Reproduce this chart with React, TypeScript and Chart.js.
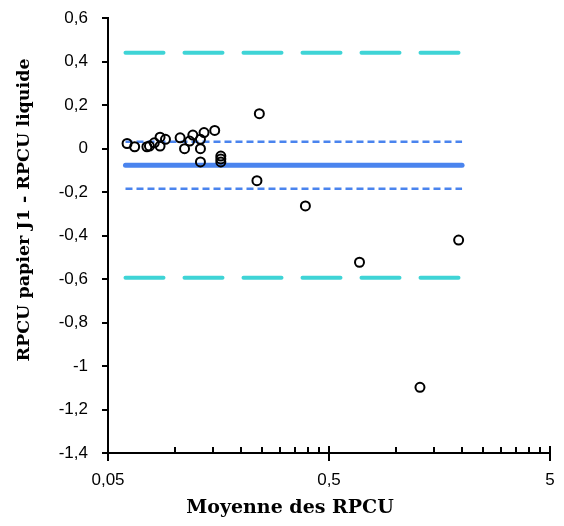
import React, { useEffect, useRef } from "react";
import { Chart, registerables } from "chart.js";

Chart.register(...registerables);

// Bland-Altman data: mean of RPCU (x, log scale) vs difference (y)
const meanRPCU = [
  0.061, 0.066, 0.075, 0.077, 0.081, 0.086, 0.086, 0.091, 0.106, 0.111,
  0.117, 0.121, 0.131, 0.131, 0.131, 0.136, 0.152, 0.162, 0.162, 0.162,
  0.242, 0.236, 0.391, 0.687, 1.93, 1.29,
];
const diffRPCU = [
  0.023, 0.008, 0.008, 0.011, 0.026, 0.011, 0.052, 0.042, 0.049, -0.001,
  0.034, 0.062, 0.042, -0.001, -0.062, 0.073, 0.083, -0.035, -0.048, -0.062,
  0.16, -0.148, -0.264, -0.523, -0.421, -1.098,
];

const lineRangeX = [0.06, 2];
const meanDiff = -0.077;
const ciUpper = 0.031;
const ciLower = -0.185;
const loaUpper = 0.44;
const loaLower = -0.594;

const xMajorTicks = [0.05, 0.5, 5];
const xMinorTicks = [
  0.1, 0.15, 0.2, 0.25, 0.3, 0.35, 0.4, 0.45,
  1, 1.5, 2, 2.5, 3, 3.5, 4, 4.5,
];
const xLabels: Record<string, string> = { "0.05": "0,05", "0.5": "0,5", "5": "5" };

const xTitle = "Moyenne des RPCU";
const yTitle = "RPCU papier J1 - RPCU liquide";

const hLine = (y: number) => lineRangeX.map((x) => ({ x, y }));

const CANVAS_W = 564;
const CANVAS_H = 526;

const zeroPad = (scale: any) => {
  scale.paddingTop = 0;
  scale.paddingBottom = 0;
  scale.paddingLeft = 0;
  scale.paddingRight = 0;
};

export default function App() {
  const ref = useRef<HTMLCanvasElement | null>(null);

  useEffect(() => {
    if (!ref.current) return;

    const overlay = {
      id: "overlay",
      afterDraw(chart: any) {
        const ctx = chart.ctx as CanvasRenderingContext2D;
        const xs = chart.scales.x;
        const ys = chart.scales.y;
        const axisY = ys.bottom;
        ctx.save();
        ctx.strokeStyle = "#000";
        ctx.lineWidth = 2;
        ctx.beginPath();
        for (const v of xMajorTicks) {
          const px = Math.round(xs.getPixelForValue(v));
          ctx.moveTo(px, axisY - 7);
          ctx.lineTo(px, axisY + 8);
        }
        for (const v of xMinorTicks) {
          const px = Math.round(xs.getPixelForValue(v));
          ctx.moveTo(px, axisY - 6);
          ctx.lineTo(px, axisY);
        }
        ctx.stroke();

        ctx.fillStyle = "#000";
        ctx.textAlign = "center";
        ctx.textBaseline = "middle";
        ctx.font = "bold 19px 'DejaVu Serif', serif";
        ctx.fillText(xTitle, 290, 508);
        ctx.font = "bold 17.5px 'DejaVu Serif', serif";
        ctx.translate(24, 210);
        ctx.rotate(-Math.PI / 2);
        ctx.fillText(yTitle, 0, 0);
        ctx.restore();
      },
    };

    const chart = new Chart(ref.current, {
      type: "scatter",
      data: {
        datasets: [
          {
            label: "points",
            data: meanRPCU.map((x, i) => ({ x, y: diffRPCU[i] })),
            pointRadius: 4.5,
            pointBorderWidth: 2,
            pointBorderColor: "#000",
            pointBackgroundColor: "rgba(0,0,0,0)",
            showLine: false,
            order: 0,
          },
          {
            label: "loaUpper",
            data: hLine(loaUpper),
            showLine: true,
            borderColor: "#3fd4d6",
            borderWidth: 4,
            borderDash: [38, 21],
            borderCapStyle: "round",
            pointRadius: 0,
            order: 1,
          },
          {
            label: "loaLower",
            data: hLine(loaLower),
            showLine: true,
            borderColor: "#3fd4d6",
            borderWidth: 4,
            borderDash: [38, 21],
            borderCapStyle: "round",
            pointRadius: 0,
            order: 1,
          },
          {
            label: "ciUpper",
            data: hLine(ciUpper),
            showLine: true,
            borderColor: "#4a84ee",
            borderWidth: 2.5,
            borderDash: [7, 4],
            pointRadius: 0,
            order: 1,
          },
          {
            label: "ciLower",
            data: hLine(ciLower),
            showLine: true,
            borderColor: "#4a84ee",
            borderWidth: 2.5,
            borderDash: [7, 4],
            pointRadius: 0,
            order: 1,
          },
          {
            label: "mean",
            data: hLine(meanDiff),
            showLine: true,
            borderColor: "#4a84ee",
            borderWidth: 5,
            borderCapStyle: "round",
            pointRadius: 0,
            order: 1,
          },
        ],
      },
      options: {
        animation: false,
        responsive: false,
        devicePixelRatio: 1,
        layout: { padding: { left: 0, right: 14, top: 18, bottom: 0 } },
        plugins: {
          legend: { display: false },
          tooltip: { enabled: false },
        },
        scales: {
          x: {
            type: "logarithmic",
            min: 0.05,
            max: 5,
            afterBuildTicks: (scale: any) => {
              scale.ticks = [...xMajorTicks].map((v) => ({ value: v }));
            },
            afterFit: (scale: any) => {
              scale.height = CANVAS_H - 453;
              zeroPad(scale);
            },
            grid: { display: false, drawTicks: true, tickLength: 17 },
            border: { display: true, color: "#000", width: 2 },
            ticks: {
              autoSkip: false,
              maxRotation: 0,
              padding: 0,
              color: "#000",
              font: { family: "'Liberation Sans', Arial, sans-serif", size: 17 },
              callback: (v: any) => xLabels[String(v)] ?? "",
            },
          },
          y: {
            type: "linear",
            min: -1.4,
            max: 0.6,
            afterFit: (scale: any) => {
              scale.width = 108;
              zeroPad(scale);
            },
            grid: {
              drawOnChartArea: false,
              drawTicks: true,
              tickLength: 6,
              color: "#000",
              lineWidth: 2,
            },
            border: { display: true, color: "#000", width: 2 },
            ticks: {
              stepSize: 0.2,
              padding: 14,
              color: "#000",
              font: { family: "'Liberation Sans', Arial, sans-serif", size: 17 },
              callback: (v: any) =>
                String(Number(Number(v).toFixed(1))).replace(".", ","),
            },
          },
        },
      },
      plugins: [overlay],
    } as any);

    return () => chart.destroy();
  }, []);

  return (
    <div style={{ position: "fixed", left: 0, top: 0, width: CANVAS_W, height: CANVAS_H, background: "#fff" }}>
      <canvas ref={ref} width={CANVAS_W} height={CANVAS_H} />
    </div>
  );
}
